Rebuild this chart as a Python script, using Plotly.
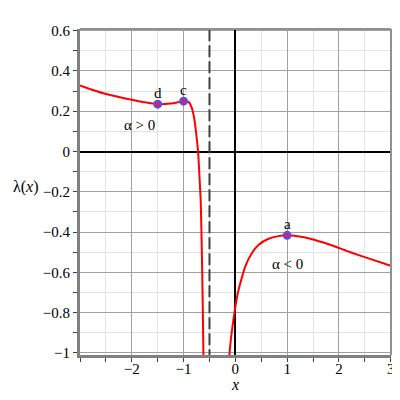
import plotly.graph_objects as go

# curve, left branch (alpha > 0)
left_x = [-3.0, -2.75, -2.5, -2.25, -2.0, -1.75, -1.5, -1.25, -1.1, -1.0, -0.9,
          -0.84, -0.79, -0.75, -0.72, -0.69, -0.67, -0.655, -0.64, -0.628, -0.617, -0.61]
left_y = [0.328, 0.305, 0.285, 0.27, 0.257, 0.244, 0.235, 0.238, 0.245, 0.25, 0.245,
          0.215, 0.157, 0.074, 0.0, -0.14, -0.24, -0.40, -0.60, -0.80, -1.01, -1.1]

# right branch (alpha < 0)
right_x = [-0.12, -0.115, -0.09, -0.064, -0.032, 0.0, 0.05, 0.096, 0.19, 0.32, 0.45,
           0.64, 0.83, 1.0, 1.2, 1.445, 1.83, 2.22, 2.6, 3.0]
right_y = [-1.05, -1.01, -0.94, -0.885, -0.825, -0.77, -0.70, -0.653, -0.571, -0.504, -0.463,
           -0.433, -0.42, -0.416, -0.421, -0.433, -0.463, -0.50, -0.533, -0.567]

asym_x = [-0.5, -0.5]
asym_y = [-1.2, 0.8]

pts_x = [1.0, -1.0, -1.5]
pts_y = [-0.416, 0.25, 0.235]
pts_label = ['a', 'c', 'd']

y_ticks = [0.6, 0.4, 0.2, 0, -0.2, -0.4, -0.6, -0.8, -1]
y_ticktext = ['0.6', '0.4', '0.2', '0', '\u22120.2', '\u22120.4', '\u22120.6', '\u22120.8', '\u22121']
x_ticks = [-2, -1, 0, 1, 2, 3]
x_ticktext = ['\u22122', '\u22121', '0', '1', '2', '3']

font_name = "Liberation Serif"
red = '#ff0000'

fig = go.Figure()

fig.add_trace(go.Scatter(x=asym_x, y=asym_y, mode='lines',
                         line=dict(color='#404040', width=2, dash='12px,4px')))
fig.add_trace(go.Scatter(x=left_x, y=left_y, mode='lines',
                         line=dict(color=red, width=2, shape='spline', smoothing=0.6)))
fig.add_trace(go.Scatter(x=right_x, y=right_y, mode='lines',
                         line=dict(color=red, width=2, shape='spline', smoothing=0.6)))
fig.add_trace(go.Scatter(x=pts_x, y=pts_y, mode='markers',
                         marker=dict(symbol='circle', size=7, color='#e02050',
                                     line=dict(color='#5050ff', width=2))))

# point labels
for px, py, lab in zip(pts_x, pts_y, pts_label):
    fig.add_annotation(x=px, y=py, text=lab, showarrow=False, yshift=11,
                       font=dict(family=font_name, size=15, color='black'))

# region labels
fig.add_annotation(x=-1.85, y=0.131, text='\u03b1 > 0', showarrow=False,
                   font=dict(family=font_name, size=15, color='black'))
fig.add_annotation(x=1.0, y=-0.557, text='\u03b1 < 0', showarrow=False,
                   font=dict(family=font_name, size=15, color='black'))

# axis titles
fig.add_annotation(xref='paper', yref='paper', x=-0.222, y=0.515, text='\u03bb(<i>x</i>)',
                   xanchor='left', yanchor='middle',
                   showarrow=False, font=dict(family=font_name, size=16, color='black'))
fig.add_annotation(x=0, yref='paper', y=-0.092, text='<i>x</i>',
                   xanchor='center', yanchor='middle',
                   showarrow=False, font=dict(family=font_name, size=16, color='black'))

# top and right frame
fig.add_shape(type='line', xref='paper', yref='paper', x0=0, x1=1, y0=1, y1=1,
              line=dict(color='#909090', width=2))
fig.add_shape(type='line', xref='paper', yref='paper', x0=1, x1=1, y0=0, y1=1,
              line=dict(color='#909090', width=2))

# page body has an 8px margin, so the figure is a bit smaller than the window
fig.update_layout(
    width=392, height=384,
    margin=dict(l=72, r=9, t=21, b=37),
    showlegend=False,
    plot_bgcolor='white',
    paper_bgcolor='white',
    font=dict(family=font_name, size=15, color='black'),
    xaxis=dict(
        range=[-3, 3.005], automargin=False,
        tickvals=x_ticks, ticktext=x_ticktext,
        showgrid=True, gridcolor='#a0a0a0', gridwidth=1,
        zeroline=True, zerolinecolor='black', zerolinewidth=1.5,
        showline=True, linecolor='#808080', linewidth=3,
        ticks='outside', ticklen=4, tickcolor='#404040',
        ticklabelstandoff=-6,
        minor=dict(dtick=0.5, tick0=0, showgrid=True, gridcolor='#e4e4e4',
                   ticks='outside', ticklen=4, tickcolor='#404040'),
        tickfont=dict(family=font_name, size=15, color='black'),
    ),
    yaxis=dict(
        range=[-1.01, 0.608], automargin=False,
        tickvals=y_ticks, ticktext=y_ticktext,
        showgrid=True, gridcolor='#a0a0a0', gridwidth=1,
        zeroline=True, zerolinecolor='black', zerolinewidth=1.5,
        showline=True, linecolor='#808080', linewidth=3,
        ticks='outside', ticklen=4, tickcolor='#404040',
        minor=dict(dtick=0.1, tick0=0, showgrid=True, gridcolor='#e4e4e4',
                   ticks='outside', ticklen=4, tickcolor='#404040'),
        tickfont=dict(family=font_name, size=15, color='black'),
    ),
)

fig.write_html("out.html")
